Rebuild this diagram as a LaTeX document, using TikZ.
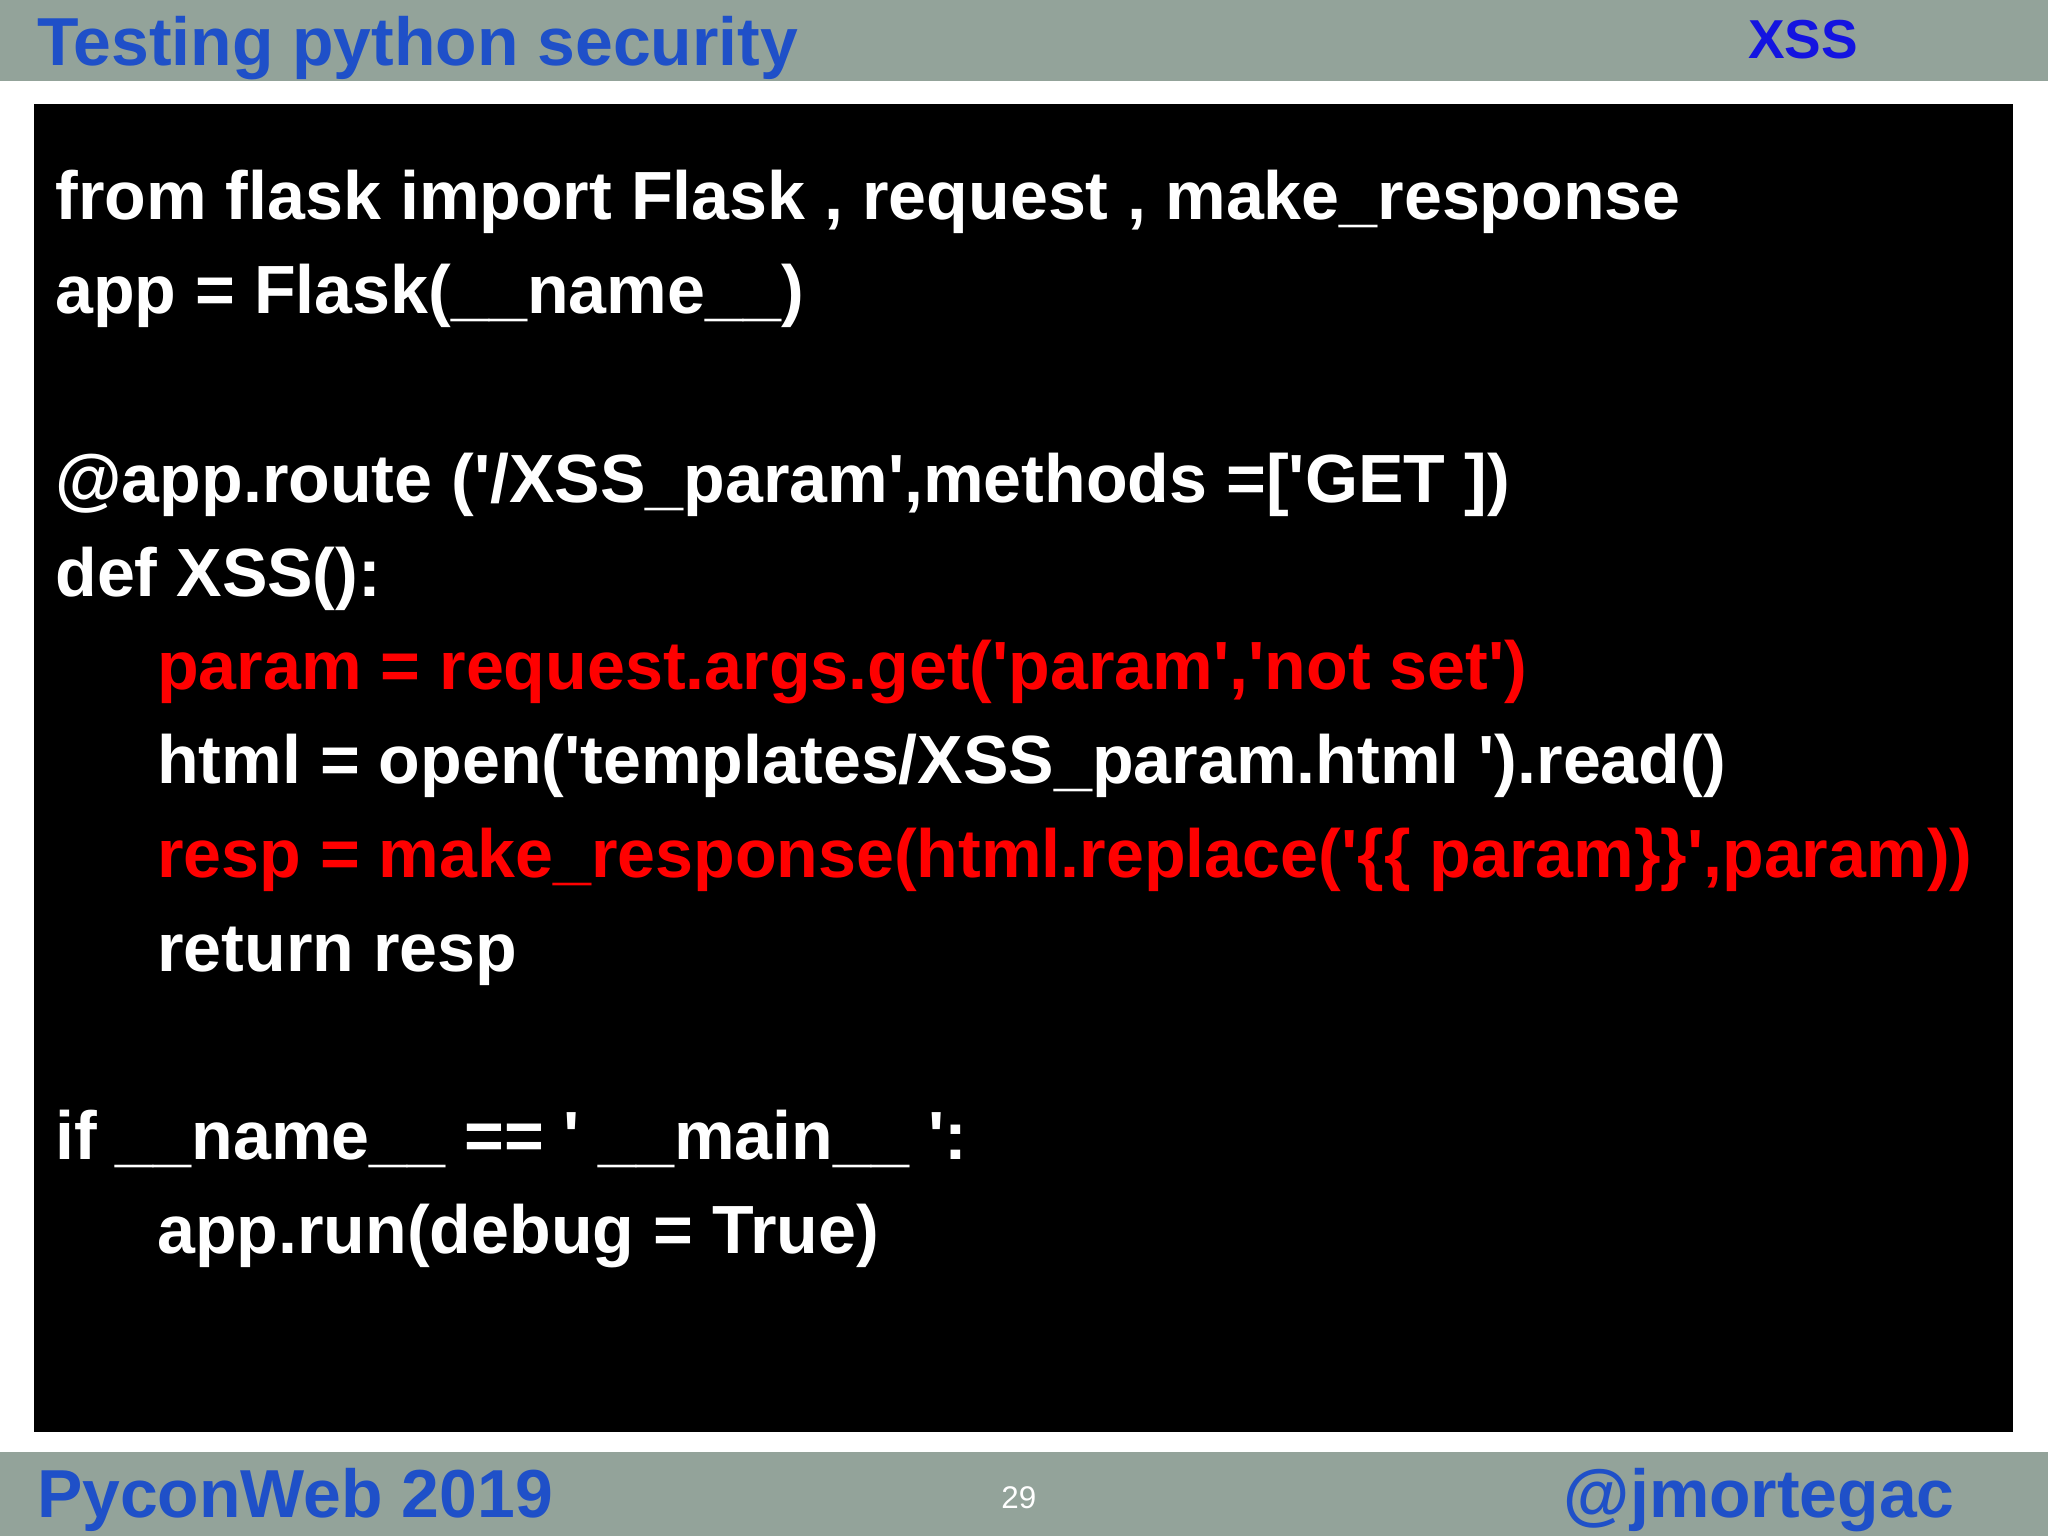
\documentclass[tikz,border=0pt]{standalone}
\usepackage{fontspec}
\setmainfont{Liberation Sans}
\definecolor{bar}{HTML}{93A39A}
\definecolor{ttl}{HTML}{1F50C8}
\definecolor{xss}{HTML}{1414E0}
\definecolor{cred}{HTML}{FF0000}
\newcommand{\q}{\textquotesingle}
\begin{document}
\begin{tikzpicture}[x=0.5pt,y=-0.5pt,
  code/.style={anchor=base west,inner sep=0,text=white,font=\bfseries\fontsize{26.1}{30}\selectfont},
  red/.style={code,text=cred},
  hdr/.style={anchor=base west,inner sep=0,text=ttl,font=\bfseries\fontsize{26}{30}\selectfont}]
\useasboundingbox (0,0) rectangle (1568,1176);
\fill[white] (0,0) rectangle (1568,1176);
\fill[bar] (0,0) rectangle (1568,62);
\fill[bar] (0,1112) rectangle (1568,1176);
\fill[black] (26,80) rectangle (1541,1096);
\node[hdr] (title) at (28,50) {Testing python security};
\node[anchor=base east,inner sep=0,text=xss,font=\bfseries\fontsize{21}{24}\selectfont] (xss) at (1423,45) {XSS};
\node[hdr] (conf) at (28,1162) {PyconWeb 2019};
\node[hdr,anchor=base east] (handle) at (1497,1162) {@jmortegac};
\node[anchor=base,inner sep=0,text=white,font=\fontsize{12}{14}\selectfont] (pg) at (780,1155) {29};
\node[code] (l1) at (42,168) {from flask import Flask , request , make\_response};
\node[code] (l2) at (42,240) {app = Flask(\_\_name\_\_)};
\node[code] (l3) at (42,385) {@app.route (\q/XSS\_param\q,methods =[\q GET ])};
\node[code] (l4) at (42,457) {def XSS():};
\node[red] (l5) at (120,528) {param = request.args.get(\q param\q,\q not set\q)};
\node[code] (l6) at (120,600) {html = open(\q templates/XSS\_param.html \q).read()};
\node[red] (l7) at (120,672) {resp = make\_response(html.replace(\q\{\{ param\}\}\q,param))};
\node[code] (l8) at (120,744) {return resp};
\node[code] (l9) at (42,888) {if \_\_name\_\_ == \q{} \_\_main\_\_ \q:};
\node[code] (l10) at (120,960) {app.run(debug = True)};
\end{tikzpicture}
\end{document}
